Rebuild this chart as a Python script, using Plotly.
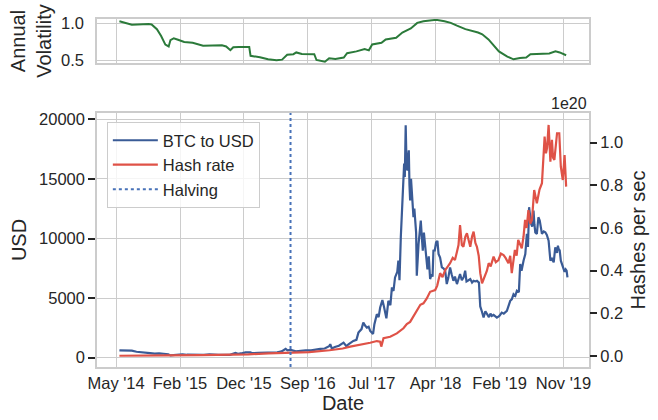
import plotly.graph_objects as go

# tick positions on the shared date axis
TICK_DATES = ["2014-05-15", "2015-02-27", "2015-12-12", "2016-09-25",
              "2017-07-10", "2018-04-24", "2019-02-06", "2019-11-21"]
TICK_LABELS = ["May '14", "Feb '15", "Dec '15", "Sep '16",
               "Jul '17", "Apr '18", "Feb '19", "Nov '19"]

HALVING_DATE = "2016-07-09"

# rolling annual volatility (top panel)
VOL_DATES = [
    "2014-05-30", "2014-06-27", "2014-07-25", "2014-10-09", "2014-10-22", "2014-11-15",
    "2014-12-04", "2014-12-23", "2015-01-07", "2015-01-15", "2015-01-30", "2015-02-18",
    "2015-03-18", "2015-04-25", "2015-06-11", "2015-09-04", "2015-09-23", "2015-10-12",
    "2015-10-25", "2015-11-19", "2016-01-05", "2016-01-11", "2016-02-22", "2016-03-30",
    "2016-05-07", "2016-06-01", "2016-06-24", "2016-07-22", "2016-08-04", "2016-08-29",
    "2016-10-24", "2016-11-03", "2016-12-11", "2016-12-30", "2017-01-27", "2017-03-06",
    "2017-03-21", "2017-05-02", "2017-06-08", "2017-06-27", "2017-07-12", "2017-08-23",
    "2017-09-11", "2017-10-28", "2017-11-25", "2018-01-02", "2018-01-31", "2018-02-28",
    "2018-04-26", "2018-06-03", "2018-07-01", "2018-07-29", "2018-09-05", "2018-11-01",
    "2018-11-20", "2018-12-18", "2019-01-15", "2019-02-03", "2019-03-13", "2019-04-10",
    "2019-05-09", "2019-06-06", "2019-06-25", "2019-07-23", "2019-09-18", "2019-10-16",
    "2019-11-04", "2019-12-03",
]
VOLATILITY = [
    1.027, 1.005, 0.980, 0.990, 0.985, 0.920,
    0.830, 0.715, 0.690, 0.775, 0.800, 0.780,
    0.750, 0.740, 0.700, 0.706, 0.690, 0.640,
    0.680, 0.683, 0.683, 0.565, 0.546, 0.518,
    0.505, 0.514, 0.578, 0.587, 0.610, 0.590,
    0.587, 0.509, 0.486, 0.532, 0.523, 0.541,
    0.600, 0.624, 0.656, 0.638, 0.716, 0.739,
    0.784, 0.807, 0.876, 0.930, 1.005, 1.028,
    1.046, 1.028, 1.005, 0.968, 0.922, 0.876,
    0.853, 0.784, 0.693, 0.624, 0.555, 0.518,
    0.537, 0.541, 0.587, 0.592, 0.596, 0.624,
    0.610, 0.573,
]

# BTC price in USD
BTC_DATES = [
    "2014-05-30", "2014-06-15", "2014-07-05", "2014-07-25", "2014-08-15", "2014-09-05",
    "2014-09-25", "2014-10-15", "2014-11-05", "2014-11-25", "2014-12-15", "2015-01-05",
    "2015-01-15", "2015-02-01", "2015-02-20", "2015-03-10", "2015-03-30", "2015-04-20",
    "2015-05-15", "2015-06-15", "2015-07-10", "2015-07-30", "2015-08-20", "2015-09-15",
    "2015-10-10", "2015-11-04", "2015-11-15", "2015-12-05", "2015-12-20", "2016-01-10",
    "2016-01-20", "2016-02-15", "2016-03-10", "2016-04-10", "2016-05-10", "2016-05-30",
    "2016-06-17", "2016-06-25", "2016-07-10", "2016-08-02", "2016-08-20", "2016-09-15",
    "2016-10-10", "2016-10-30", "2016-11-20", "2016-12-10", "2016-12-30", "2017-01-04",
    "2017-01-11", "2017-01-25", "2017-02-12", "2017-03-05", "2017-03-18", "2017-03-27",
    "2017-04-18", "2017-05-02", "2017-05-11", "2017-05-25", "2017-06-02", "2017-06-10",
    "2017-06-18", "2017-06-26", "2017-07-03", "2017-07-16", "2017-07-22", "2017-08-02",
    "2017-08-10", "2017-08-17", "2017-08-27", "2017-09-03", "2017-09-08", "2017-09-14",
    "2017-09-23", "2017-10-02", "2017-10-09", "2017-10-16", "2017-10-23", "2017-11-02",
    "2017-11-07", "2017-11-12", "2017-11-18", "2017-11-27", "2017-12-03", "2017-12-06",
    "2017-12-10", "2017-12-14", "2017-12-18", "2017-12-21", "2017-12-24", "2017-12-27",
    "2017-12-30", "2018-01-03", "2018-01-07", "2018-01-10", "2018-01-14", "2018-01-18",
    "2018-01-22", "2018-01-26", "2018-01-29", "2018-02-02", "2018-02-06", "2018-02-11",
    "2018-02-16", "2018-02-20", "2018-02-25", "2018-03-02", "2018-03-07", "2018-03-12",
    "2018-03-18", "2018-03-24", "2018-03-30", "2018-04-06", "2018-04-10", "2018-04-14",
    "2018-04-20", "2018-04-26", "2018-05-02", "2018-05-07", "2018-05-14", "2018-05-22",
    "2018-05-29", "2018-06-06", "2018-06-13", "2018-06-20", "2018-06-28", "2018-07-05",
    "2018-07-13", "2018-07-20", "2018-07-29", "2018-08-05", "2018-08-12", "2018-08-20",
    "2018-08-28", "2018-09-04", "2018-09-10", "2018-09-19", "2018-09-27", "2018-10-05",
    "2018-10-12", "2018-10-20", "2018-10-27", "2018-11-05", "2018-11-11", "2018-11-18",
    "2018-11-26", "2018-12-04", "2018-12-11", "2018-12-20", "2018-12-27", "2019-01-02",
    "2019-01-10", "2019-01-18", "2019-01-25", "2019-02-05", "2019-02-16", "2019-02-25",
    "2019-03-11", "2019-03-26", "2019-04-02", "2019-04-10", "2019-04-18", "2019-04-25",
    "2019-05-04", "2019-05-10", "2019-05-16", "2019-05-25", "2019-06-02", "2019-06-09",
    "2019-06-14", "2019-06-19", "2019-06-24", "2019-06-28", "2019-07-03", "2019-07-09",
    "2019-07-13", "2019-07-17", "2019-07-24", "2019-07-31", "2019-08-06", "2019-08-11",
    "2019-08-16", "2019-08-24", "2019-08-31", "2019-09-07", "2019-09-15", "2019-09-23",
    "2019-09-30", "2019-10-08", "2019-10-15", "2019-10-23", "2019-10-27", "2019-10-30",
    "2019-11-04", "2019-11-09", "2019-11-15", "2019-11-21", "2019-11-26", "2019-12-01",
    "2019-12-05", "2019-12-09",
]
BTC_USD = [
    620, 600, 630, 590, 500, 480,
    410, 390, 340, 370, 330, 280,
    190, 230, 245, 290, 250, 230,
    240, 235, 280, 285, 230, 230,
    245, 400, 330, 380, 440, 450,
    380, 400, 415, 420, 455, 530,
    750, 620, 650, 540, 580, 610,
    615, 700, 740, 770, 960, 1130,
    780, 900, 1000, 1263, 960, 1128,
    1406, 1500, 2105, 2400, 2946, 2700,
    2525, 2600, 2248, 2000, 2812, 3653,
    3400, 4209, 4832, 4300, 3931, 3300,
    4773, 4400, 5893, 5600, 6734, 7200,
    8140, 6500, 10100, 13800, 16280, 15152,
    19504, 16000, 15716, 16800, 17400, 14500,
    13190, 15000, 14033, 13000, 11785, 12500,
    11507, 10500, 6877, 8500, 9546, 10500,
    11507, 10300, 8982, 10500, 9546, 8300,
    7416, 8500, 6600, 7000, 6800, 8982,
    9000, 9680, 9800, 8703, 8400, 7576,
    7500, 7298, 6179, 6700, 7576, 7000,
    6457, 6800, 6179, 6600, 7020, 6500,
    6734, 7300, 6400, 6500, 6600, 6300,
    6457, 6400, 6457, 6300, 4300, 3900,
    3367, 3900, 3653, 3400, 3700, 3510,
    3600, 3450, 3367, 3500, 3788, 3700,
    3931, 4773, 4900, 5337, 5200, 5615,
    5500, 7862, 7300, 8140, 8700, 10388,
    9300, 12627, 11800, 11230, 11000, 12350,
    11200, 10500, 10388, 11785, 11500, 11000,
    10388, 10600, 10520, 10300, 9824, 8140,
    8300, 7997, 9260, 8800, 9400, 9125,
    9000, 8140, 7800, 7576, 7200, 7400,
    7300, 6734,
]

# network hash rate, in units of 1e20 hashes per second
HASH_DATES = [
    "2014-05-30", "2014-09-01", "2015-01-01", "2015-06-01", "2015-10-01", "2016-01-01",
    "2016-04-01", "2016-07-01", "2016-10-01", "2017-01-01", "2017-03-01", "2017-04-04",
    "2017-05-19", "2017-07-03", "2017-08-02", "2017-08-17", "2017-08-22", "2017-09-01",
    "2017-10-01", "2017-10-31", "2017-11-30", "2017-12-15", "2017-12-30", "2018-01-15",
    "2018-01-29", "2018-02-14", "2018-02-28", "2018-03-15", "2018-03-30", "2018-04-22",
    "2018-05-01", "2018-05-14", "2018-05-25", "2018-06-06", "2018-06-18", "2018-06-28",
    "2018-07-10", "2018-07-20", "2018-07-29", "2018-08-05", "2018-08-12", "2018-08-20",
    "2018-08-27", "2018-09-05", "2018-09-12", "2018-09-20", "2018-09-27", "2018-10-05",
    "2018-10-12", "2018-10-20", "2018-10-27", "2018-11-04", "2018-11-11", "2018-11-19",
    "2018-11-26", "2018-12-04", "2018-12-11", "2018-12-19", "2018-12-28", "2019-01-10",
    "2019-01-20", "2019-02-01", "2019-02-12", "2019-02-24", "2019-03-05", "2019-03-18",
    "2019-03-26", "2019-04-02", "2019-04-16", "2019-04-24", "2019-05-01", "2019-05-17",
    "2019-05-25", "2019-06-01", "2019-06-08", "2019-06-16", "2019-06-24", "2019-07-02",
    "2019-07-12", "2019-07-24", "2019-08-05", "2019-08-16", "2019-08-22", "2019-08-28",
    "2019-09-03", "2019-09-08", "2019-09-15", "2019-09-19", "2019-09-23", "2019-09-30",
    "2019-10-05", "2019-10-11", "2019-10-17", "2019-10-23", "2019-11-02", "2019-11-09",
    "2019-11-18", "2019-11-26", "2019-12-03",
]
HASH_RATE = [
    0.001, 0.003, 0.003, 0.004, 0.005, 0.008,
    0.012, 0.015, 0.018, 0.027, 0.035, 0.044,
    0.052, 0.062, 0.070, 0.067, 0.044, 0.083,
    0.090, 0.106, 0.130, 0.150, 0.160, 0.190,
    0.216, 0.240, 0.247, 0.270, 0.301, 0.309,
    0.330, 0.388, 0.370, 0.403, 0.420, 0.435,
    0.460, 0.450, 0.489, 0.520, 0.614, 0.520,
    0.512, 0.560, 0.575, 0.540, 0.512, 0.560,
    0.583, 0.530, 0.512, 0.470, 0.388, 0.341,
    0.360, 0.372, 0.400, 0.435, 0.420, 0.466,
    0.440, 0.450, 0.480, 0.473, 0.460, 0.435,
    0.470, 0.388, 0.497, 0.470, 0.544, 0.505,
    0.560, 0.638, 0.600, 0.684, 0.620, 0.638,
    0.778, 0.716, 0.780, 0.810, 0.900, 1.028,
    0.950, 0.974, 1.083, 0.960, 0.911, 1.013,
    0.930, 0.919, 0.980, 1.044, 1.044, 0.887,
    0.825, 0.942, 0.794,
]

BLUE = "#3a5b96"
RED = "#df5247"
GREEN = "#2b7a3a"
HALVING_BLUE = "#4872b8"
GRID = "#cccccc"
TEXT = "#262626"

fig = go.Figure()
fig.add_trace(go.Scatter(
    x=VOL_DATES, y=VOLATILITY, xaxis="x2", yaxis="y3", mode="lines",
    line=dict(color=GREEN, width=2), showlegend=False,
))
fig.add_trace(go.Scatter(
    x=BTC_DATES, y=BTC_USD, name="BTC to USD", mode="lines",
    line=dict(color=BLUE, width=2.2),
))
fig.add_trace(go.Scatter(
    x=HASH_DATES, y=HASH_RATE, name="Hash rate", mode="lines", yaxis="y2",
    line=dict(color=RED, width=2.2),
))
fig.add_shape(
    type="line", xref="x", yref="y domain", x0=HALVING_DATE, x1=HALVING_DATE, y0=0, y1=1,
    line=dict(color=HALVING_BLUE, width=2, dash="dot"), showlegend=True, name="Halving",
)

frame = dict(showline=True, mirror=True, linecolor=GRID, linewidth=1.5,
             gridcolor=GRID, gridwidth=1.2, zeroline=False, automargin=False)

fig.update_layout(
    width=658, height=420,
    margin=dict(l=97, r=69, t=19, b=53),
    plot_bgcolor="white", paper_bgcolor="white",
    font=dict(family="Arial, Liberation Sans", size=16.5, color=TEXT),
    xaxis=dict(
        type="date", anchor="y", range=["2014-02-18", "2020-03-15"],
        tickvals=TICK_DATES, ticktext=TICK_LABELS, ticks="",
        title=dict(text="Date", standoff=4), **frame,
    ),
    xaxis2=dict(
        type="date", anchor="y3", matches="x", tickvals=TICK_DATES,
        showticklabels=False, ticks="", **frame,
    ),
    yaxis=dict(
        domain=[0, 0.7299], range=[-780, 20530], tickvals=[0, 5000, 10000, 15000, 20000],
        tickformat="d", ticks="outside", ticklen=7, tickwidth=1.5, tickcolor=TEXT,
        title=dict(text="USD", standoff=7), **frame,
    ),
    yaxis2=dict(
        overlaying="y", side="right", range=[-0.0516, 1.139], tick0=0, dtick=0.2,
        tickformat=".1f", ticks="outside", ticklen=7, tickwidth=1.5, tickcolor=TEXT,
        showgrid=False, zeroline=False, automargin=False,
        title=dict(text="Hashes per sec", standoff=8),
    ),
    yaxis3=dict(
        domain=[0.8736, 1], anchor="x2", range=[0.469, 1.057], tickvals=[0.5, 1.0],
        tickformat=".1f", ticks="outside", ticklen=8, tickcolor="rgba(0,0,0,0)",
        title=dict(text="Annual<br>Volatility", standoff=4), **frame,
    ),
    legend=dict(
        x=0.02, y=0.704, xanchor="left", yanchor="top",
        bgcolor="rgba(255,255,255,0.8)", bordercolor=GRID, borderwidth=1,
        font=dict(size=16.5), tracegroupgap=0, itemwidth=45,
    ),
    annotations=[dict(
        text="1e20", xref="paper", yref="paper", x=1, y=0.7586,
        xanchor="right", yanchor="middle", showarrow=False, font=dict(size=16),
    )],
)

# the page's default body margin would offset the 658x420 figure
fig.write_html(
    "out.html",
    config={"displayModeBar": False},
    post_script="document.body.style.margin = '0';",
)
